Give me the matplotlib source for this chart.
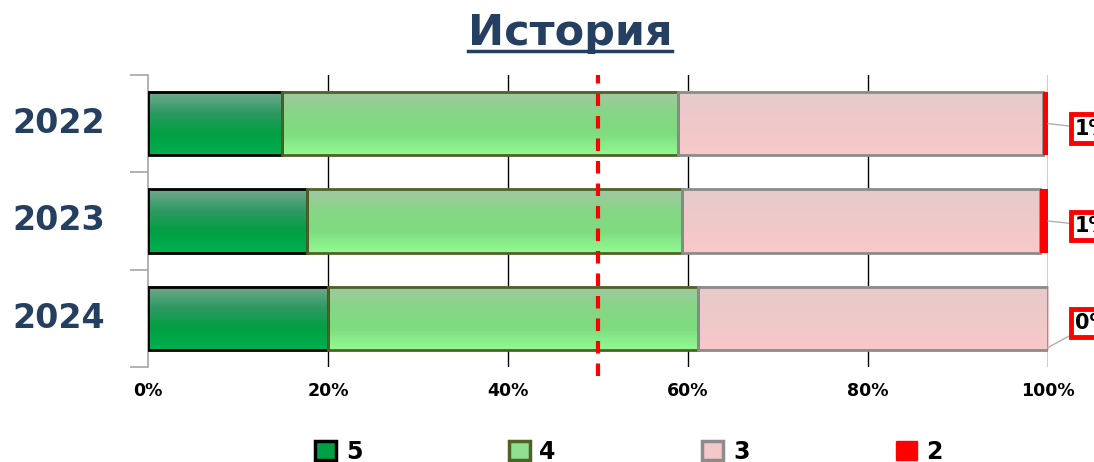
import numpy as np
import matplotlib.pyplot as plt
from matplotlib.colors import LinearSegmentedColormap
from matplotlib.patches import Patch

years = ['2022', '2023', '2024']
grades = ['5', '4', '3', '2']
share_5 = [14.9, 17.7, 20.0]
share_4 = [44.0, 41.6, 41.1]
share_3 = [40.5, 39.8, 38.9]
share_2 = [0.6, 0.9, 0.0]
labels_2 = ['1%', '1%', '0%']
threshold = 50

# gradient (top -> bottom) and outline for each grade
fills = {
    '5': ['#72a88e', '#2e9a62', '#00a043', '#00b050'],
    '4': ['#a3c7a3', '#86d686', '#7fdc7f', '#92fa92'],
    '3': ['#e6cbcb', '#efc9c9', '#f8c8c8'],
}
edges = {'5': '#000000', '4': '#4f6228', '3': '#8c8c8c', '2': '#ff0000'}
legend_face = {'5': '#00a046', '4': '#8ee08e', '3': '#f2c8c8', '2': '#ff0000'}

title_color = '#243f60'

fig = plt.figure(figsize=(10.94, 4.62), dpi=100)
ax = fig.add_axes([148 / 1094, 1 - 367 / 462, 900 / 1094, 292 / 462])
ax.set_xlim(0, 100)
ax.set_ylim(2.5, -0.5)

bar_h = 0.65
grad = np.linspace(0, 1, 64).reshape(-1, 1)
series = [share_5, share_4, share_3, share_2]
for i, yr in enumerate(years):
    left = 0
    for g, vals in zip(grades, series):
        w = vals[i]
        if w <= 0:
            continue
        y0 = i - bar_h / 2
        if g in fills:
            cmap = LinearSegmentedColormap.from_list('g' + g, fills[g])
            ax.imshow(grad, cmap=cmap, aspect='auto', interpolation='bilinear',
                      extent=(left, left + w, i + bar_h / 2, y0), zorder=2)
            ax.barh(i, w, left=left, height=bar_h, facecolor='none',
                    edgecolor=edges[g], linewidth=2, zorder=3)
        else:
            ax.barh(i, w, left=left, height=bar_h, color=edges[g], zorder=3)
        left += w

# value boxes for grade 2, hanging past the right edge
for i, lab in enumerate(labels_2):
    end = share_5[i] + share_4[i] + share_3[i] + share_2[i]
    y_from = i + (0.3 if share_2[i] == 0 else 0.0)
    ax.annotate(lab, xy=(end, y_from), xytext=(103.0, i + 0.05),
                fontsize=15, fontweight='bold', color='black', va='center',
                annotation_clip=False,
                bbox=dict(boxstyle='square,pad=0.2', fc='white', ec='red', lw=3.5),
                arrowprops=dict(arrowstyle='-', color='#b0b0b0', lw=1,
                                shrinkA=0, shrinkB=0))

ax.axvline(threshold, ymin=-0.03, ymax=1.0, color='red', lw=3,
           linestyle=(0, (3, 2.4)), zorder=4, clip_on=False)

# vertical grid lines
for x in [20, 40, 60, 80, 100]:
    ax.axvline(x, ymin=0, ymax=1, color='black', lw=1, zorder=1)

for s in ['top', 'right', 'bottom']:
    ax.spines[s].set_visible(False)
ax.spines['left'].set_color('#a6a6a6')
ax.spines['left'].set_linewidth(1.2)

ax.set_xticks([0, 20, 40, 60, 80, 100])
ax.set_xticklabels(['0%', '20%', '40%', '60%', '80%', '100%'],
                   fontsize=12.5, fontweight='bold')
ax.tick_params(axis='x', length=0, pad=11)

ax.set_yticks([-0.5, 0.5, 1.5, 2.5])
ax.set_yticklabels([])
ax.set_yticks([0, 1, 2], minor=True)
ax.set_yticklabels(years, minor=True, fontsize=24, fontweight='bold',
                   color=title_color, va='center')
ax.tick_params(axis='y', which='major', length=13, color='#a6a6a6', width=1.2)
ax.tick_params(axis='y', which='minor', length=0, pad=31)

title = fig.text(570 / 1094, 1 - 45 / 462, 'История', ha='center', va='baseline',
                 fontsize=31, fontweight='bold', color=title_color)
fig.canvas.draw()
bb = title.get_window_extent().transformed(fig.transFigure.inverted())
uy = 1 - 50.5 / 462
fig.add_artist(plt.Line2D([bb.x0, bb.x1], [uy, uy],
                          color=title_color, lw=2.5, transform=fig.transFigure))

handles = [Patch(facecolor=legend_face[g], edgecolor=edges[g], linewidth=2.5)
           for g in grades]
handles[3] = Patch(facecolor='red', edgecolor='red')
fig.legend(handles, grades, loc='center', bbox_to_anchor=(629 / 1094, 0.022), ncol=4,
           frameon=False, prop={'size': 17, 'weight': 'bold'},
           handlelength=0.9, handleheight=0.9, handletextpad=0.4,
           columnspacing=6.2)

fig.savefig('out.png', dpi=100)
